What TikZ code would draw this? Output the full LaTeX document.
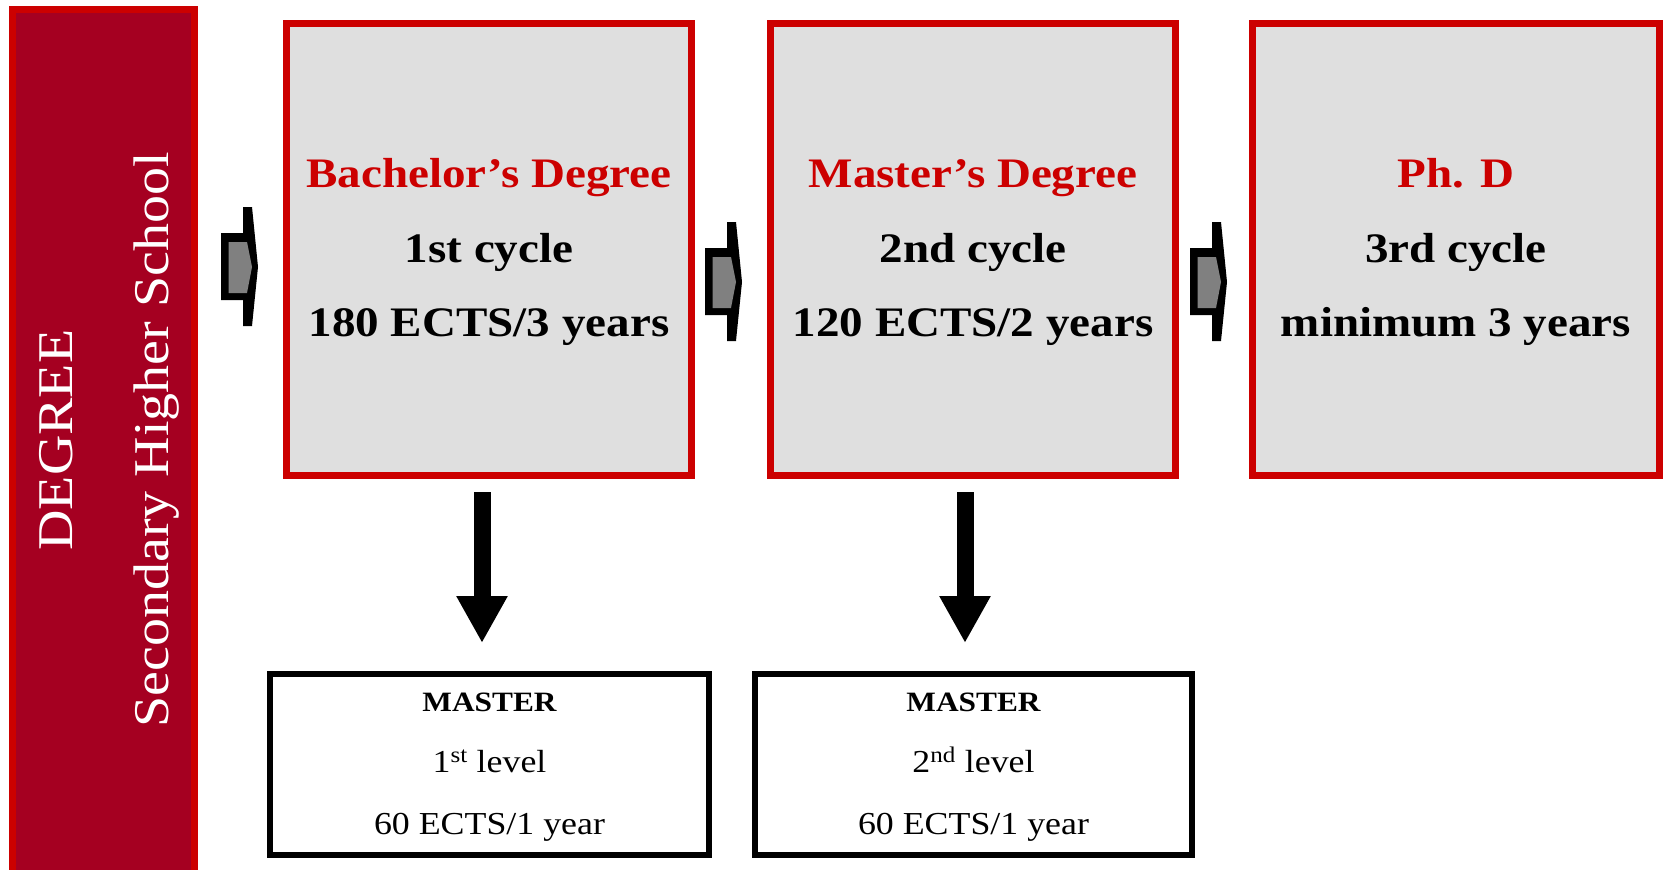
\documentclass[tikz,border=0pt]{standalone}
\usepackage{fontspec}
\setmainfont[FakeStretch=1.12]{Liberation Serif}
\usetikzlibrary{arrows.meta}
\definecolor{degred}{HTML}{CC0000}
\definecolor{barred}{HTML}{A50021}
\definecolor{boxgray}{HTML}{DFDFDF}
\definecolor{chevgray}{HTML}{808080}
\tikzset{
  degbar/.style={draw=degred, fill=barred, line width=7pt, inner sep=0pt, minimum width=182pt, minimum height=891pt},
  bartext/.style={text=white, font=\fontsize{50}{60}\selectfont, rotate=90, anchor=base},
  cyclebox/.style={draw=degred, fill=boxgray, line width=7pt, inner sep=0pt, minimum width=405pt, minimum height=452pt},
  cyctitle/.style={text=degred, font=\fontsize{42}{50}\selectfont\bfseries, anchor=base},
  cyctext/.style={font=\fontsize{42}{50}\selectfont\bfseries, anchor=base},
  masterbox/.style={draw, fill=white, line width=6pt, inner sep=0pt, minimum width=439pt, minimum height=181pt},
  mastertitle/.style={font=\fontsize{28}{34}\selectfont\bfseries, anchor=base},
  mastertext/.style={font=\fontsize{32}{38}\selectfont, anchor=base},
  chevouter/.style={fill=black},
  chevinner/.style={fill=chevgray},
  downarrow/.style={line width=17pt, -{Triangle[width=48pt,length=47pt]}, shorten <=13pt, shorten >=28pt}
}
\def\chev(#1){
\fill[chevouter,shift={(#1)}] (-37,-34) -- (-15,-34) -- (-15,-60) -- (-6,-60) -- (0,0) -- (-6,59) -- (-15,59) -- (-15,33) -- (-37,33) -- cycle;
\fill[chevinner,shift={(#1)}] (-29.5,-25) -- (-11,-25) -- (-6,0) -- (-11,26) -- (-29.5,26) -- cycle;
}

\begin{document}
\begin{tikzpicture}[x=1pt,y=-1pt]
\useasboundingbox (0,0) rectangle (1663,870);
% left bar
\node[degbar] (bar) at (103.5,454.5) {};
\node[bartext] (deg) at (72,440) {DEGREE};
\node[bartext] (shs) at (168,440) {Secondary Higher School};
% cycles
\node[cyclebox] (b1) at (489,249.5) {};
\node[cyclebox] (b2) at (973,249.5) {};
\node[cyclebox, minimum width=407pt] (b3) at (1456,249.5) {};
\node[cyctitle] (b1t) at (489,187) {Bachelor’s Degree};
\node[cyctext] (b1c) at (489,262) {1st cycle};
\node[cyctext] (b1e) at (489,336) {180 ECTS/3 years};
\node[cyctitle] (b2t) at (973,187) {Master’s Degree};
\node[cyctext] (b2c) at (973,262) {2nd cycle};
\node[cyctext] (b2e) at (973,336) {120 ECTS/2 years};
\node[cyctitle] (b3t) at (1456,187) {Ph. D};
\node[cyctext] (b3c) at (1456,262) {3rd cycle};
\node[cyctext] (b3e) at (1456,336) {minimum 3 years};
% masters
\node[masterbox] (m1) at (489.5,764.5) {};
\node[masterbox, minimum width=437pt] (m2) at (973.5,764.5) {};
\node[mastertitle] (m1t) at (489.5,711) {MASTER};
\node[mastertext] (m1l) at (489.5,772) {1\textsuperscript{st} level};
\node[mastertext] (m1e) at (489.5,834) {60 ECTS/1 year};
\node[mastertitle] (m2t) at (973.5,711) {MASTER};
\node[mastertext] (m2l) at (973.5,772) {2\textsuperscript{nd} level};
\node[mastertext] (m2e) at (973.5,834) {60 ECTS/1 year};
% arrows
\coordinate (c1) at (258,267);
\coordinate (c2) at (742,282);
\coordinate (c3) at (1227,282);
\chev(c1)
\chev(c2)
\chev(c3)
\draw[downarrow] ([xshift=-7pt]b1.south) -- ([xshift=-7pt]b1.south |- m1.north);
\draw[downarrow] ([xshift=-8pt]b2.south) -- ([xshift=-8pt]b2.south |- m2.north);
\end{tikzpicture}
\end{document}
